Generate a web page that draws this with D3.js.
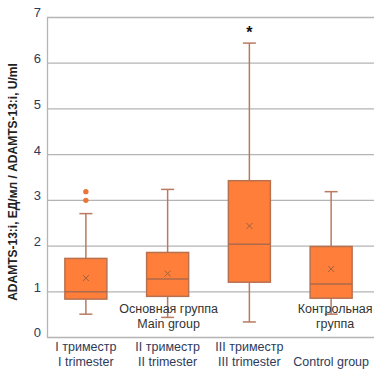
<!DOCTYPE html>
<html><head><meta charset="utf-8">
<script src="https://cdn.jsdelivr.net/npm/d3@7"></script>
<style>
html,body{margin:0;padding:0;background:#fff;}
svg{display:block;}
text{font-family:"Liberation Sans Narrow","Arial Narrow","Liberation Sans",sans-serif;}
</style></head>
<body>
<svg id="chart" width="386" height="380"></svg>
<script>
// Data
const categories = ["I", "II", "III", "C"];
const labelsRu = ["I триместр", "II триместр", "III триместр", ""];
const labelsEn = ["I trimester", "II trimester", "III trimester", "Control group"];
const whiskerLow  = [0.51, 0.44, 0.34, 0.51];
const q1          = [0.84, 0.90, 1.21, 0.86];
const medians     = [1.00, 1.28, 2.04, 1.17];
const means       = [1.30, 1.40, 2.44, 1.50];
const q3          = [1.73, 1.86, 3.43, 1.99];
const whiskerHigh = [2.71, 3.24, 6.44, 3.19];
const outliers    = [[3.0, 3.19], [], [], []];
const significance = ["", "", "*", ""];
const yTicks = [0, 1, 2, 3, 4, 5, 6, 7];
const groupNotes = [
  {cat: "II", lines: ["Основная группа", "Main group"]},
  {cat: "C", lines: ["Контрольная", "группа"]}
];
const yTitle = "ADAMTS-13:i, ЕД/мл / ADAMTS-13:i, U/ml";

const svg = d3.select("#chart");
const plotL = 47, plotR = 374;
const y = d3.scaleLinear().domain([0, 7]).range([337.5, 17.5]);
const x = d3.scaleBand().domain(categories).range([45, 372]).paddingInner(0).paddingOuter(0);
const boxW = 42, capW = 13;
const cx = c => x(c) + x.bandwidth() / 2;

// gridlines
svg.append("g").selectAll("line").data(yTicks.filter(t => t > 0)).join("line")
  .attr("x1", plotL).attr("x2", plotR)
  .attr("y1", d => y(d)).attr("y2", d => y(d))
  .attr("stroke", "#b4b4b4").attr("stroke-width", 1.3);

// y axis
const yAxis = svg.append("g").attr("transform", `translate(${plotL},0)`)
  .call(d3.axisLeft(y).tickValues(yTicks).tickFormat(d3.format("d")).tickSize(0).tickPadding(6));
yAxis.select(".domain").attr("stroke", "#b4b4b4").attr("stroke-width", 1.3);
yAxis.selectAll("text").attr("font-size", 13).attr("fill", "#2e3a5a").attr("dy", "-0.05em")
  .attr("font-family", "'Liberation Sans Narrow','Liberation Sans',sans-serif");

// x axis baseline
svg.append("line").attr("x1", plotL).attr("x2", plotR)
  .attr("y1", y(0)).attr("y2", y(0)).attr("stroke", "#b4b4b4").attr("stroke-width", 1.3);

const data = categories.map((c, i) => ({c, lo: whiskerLow[i], q1: q1[i], med: medians[i], mean: means[i], q3: q3[i], hi: whiskerHigh[i], out: outliers[i], sig: significance[i]}));

const g = svg.append("g").selectAll("g").data(data).join("g");
const whiskColor = "#b97a60";
// whiskers
g.append("line").attr("x1", d => cx(d.c)).attr("x2", d => cx(d.c))
  .attr("y1", d => y(d.lo)).attr("y2", d => y(d.q1)).attr("stroke", whiskColor).attr("stroke-width", 1.5);
g.append("line").attr("x1", d => cx(d.c)).attr("x2", d => cx(d.c))
  .attr("y1", d => y(d.q3)).attr("y2", d => y(d.hi)).attr("stroke", whiskColor).attr("stroke-width", 1.5);
g.append("line").attr("x1", d => cx(d.c) - capW / 2).attr("x2", d => cx(d.c) + capW / 2)
  .attr("y1", d => y(d.lo)).attr("y2", d => y(d.lo)).attr("stroke", whiskColor).attr("stroke-width", 1.5);
g.append("line").attr("x1", d => cx(d.c) - capW / 2).attr("x2", d => cx(d.c) + capW / 2)
  .attr("y1", d => y(d.hi)).attr("y2", d => y(d.hi)).attr("stroke", whiskColor).attr("stroke-width", 1.5);
// box
g.append("rect").attr("x", d => cx(d.c) - boxW / 2).attr("width", boxW)
  .attr("y", d => y(d.q3)).attr("height", d => y(d.q1) - y(d.q3))
  .attr("fill", "#ff7f3a").attr("stroke", "#b8714f").attr("stroke-width", 1.5);
// median
g.append("line").attr("x1", d => cx(d.c) - boxW / 2).attr("x2", d => cx(d.c) + boxW / 2)
  .attr("y1", d => y(d.med)).attr("y2", d => y(d.med)).attr("stroke", "#b0694a").attr("stroke-width", 1.5);
// mean marker
g.append("path").attr("transform", d => `translate(${cx(d.c)},${y(d.mean)})`)
  .attr("d", "M-3,-3L3,3M-3,3L3,-3").attr("stroke", "#a0603f").attr("stroke-width", 1);
// outliers
g.selectAll("circle").data(d => d.out.map(v => ({c: d.c, v}))).join("circle")
  .attr("cx", d => cx(d.c)).attr("cy", d => y(d.v)).attr("r", 2.7).attr("fill", "#e8763a");
// significance
g.filter(d => d.sig).append("text").attr("x", d => cx(d.c)).attr("y", d => y(d.hi) - 5)
  .attr("text-anchor", "middle").attr("font-size", 16).attr("font-weight", "bold").attr("fill", "#111")
  .text(d => d.sig);

// x labels
const xl = svg.append("g").selectAll("g").data(categories).join("g");
xl.append("text").attr("x", c => cx(c)).attr("y", 351).attr("text-anchor", "middle")
  .attr("font-size", 12.5).attr("fill", "#2e3a5a").text((c, i) => labelsRu[i]);
xl.append("text").attr("x", c => cx(c)).attr("y", 366).attr("text-anchor", "middle")
  .attr("font-size", 12.5).attr("fill", "#2e3a5a").text((c, i) => labelsEn[i]);

// group notes
groupNotes.forEach(n => {
  n.lines.forEach((t, j) => {
    svg.append("text").attr("x", cx(n.cat) + (n.cat === "C" ? 4 : 1)).attr("y", 313 + j * 15)
      .attr("text-anchor", "middle").attr("font-size", 12.5).attr("fill", "#333").text(t);
  });
});

// y title
svg.append("text").attr("transform", `translate(17,182) rotate(-90)`)
  .attr("text-anchor", "middle").attr("font-size", 12).attr("font-weight", "bold").attr("fill", "#222")
  .text(yTitle);
</script>
</body></html>
